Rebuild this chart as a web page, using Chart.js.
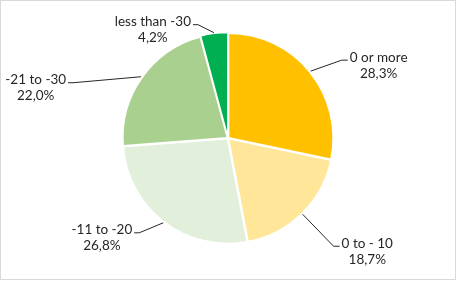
<!DOCTYPE html>
<html>
<head>
<meta charset="utf-8">
<script src="https://cdn.jsdelivr.net/npm/chart.js@4"></script>
<style>
  html, body { margin: 0; padding: 0; background: #fff; }
  #wrap { width: 456px; height: 281px; position: relative; }
</style>
</head>
<body>
<div id="wrap"><canvas id="pie"></canvas></div>
<script>
    // slice names and shares (percent), clockwise from 12 o'clock
    var categories = ['0 or more', '0 to - 10', '-11 to -20', '-21 to -30', 'less than -30'];
    var shares = [28.3, 18.7, 26.8, 22.0, 4.2];
    var sliceColors = ['#FFC000', '#FFE699', '#E2EFDA', '#A9D08E', '#00B050'];

    // where each label's elbow sits, relative to the slice edge point
    var labelShift = [[31, -11], [31, 32], [-24, 10], [-68, 6], [-16, -8]];

    var FONT = '13.5px Lato, "Open Sans", sans-serif';
    var TEXT_COLOR = '#262626';
    var SLICE_OFFSET = 3;

    function pctText(v) {
        return v.toFixed(1).replace('.', ',') + '%';
    }

    var frame = {
        id: 'frame',
        afterDraw: function (chart) {
            var ctx = chart.ctx;
            ctx.save();
            ctx.strokeStyle = '#D9D9D9';
            ctx.lineWidth = 1;
            ctx.strokeRect(0.5, 0.5, 455, 279);
            ctx.restore();
        }
    };

    // data labels with leader lines, excel style
    var pieLabels = {
        id: 'pieLabels',
        afterDatasetsDraw: function (chart) {
            var ctx = chart.ctx,
                meta = chart.getDatasetMeta(0);
            ctx.save();
            ctx.font = FONT;
            ctx.textBaseline = 'middle';
            ctx.textAlign = 'center';
            meta.data.forEach(function (arc, i) {
                var p = arc.getProps(['x', 'y', 'startAngle', 'endAngle', 'outerRadius'], true),
                    mid = (p.startAngle + p.endAngle) / 2,
                    r = p.outerRadius + SLICE_OFFSET - 1,
                    ex = p.x + Math.cos(mid) * r,
                    ey = p.y + Math.sin(mid) * r,
                    bx = ex + labelShift[i][0],
                    by = ey + labelShift[i][1],
                    right = labelShift[i][0] > 0,
                    tx = bx + (right ? 6 : -5),
                    line1 = categories[i],
                    line2 = pctText(shares[i]),
                    w = Math.max(ctx.measureText(line1).width, ctx.measureText(line2).width),
                    cx = right ? tx + 2 + w / 2 : tx - 2 - w / 2;

                ctx.strokeStyle = '#262626';
                ctx.lineWidth = 1;
                ctx.beginPath();
                ctx.moveTo(ex, ey);
                ctx.lineTo(bx, by);
                ctx.lineTo(tx, by);
                ctx.stroke();

                ctx.fillStyle = TEXT_COLOR;
                ctx.fillText(line1, cx, by - 3);
                ctx.fillText(line2, cx, by + 13);
            });
            ctx.restore();
        }
    };

    new Chart(document.getElementById('pie'), {
        type: 'pie',
        data: {
            labels: categories,
            datasets: [{
                data: shares,
                backgroundColor: sliceColors,
                borderColor: '#FFFFFF',
                borderWidth: 1.5,
                offset: SLICE_OFFSET
            }]
        },
        options: {
            responsive: true,
            maintainAspectRatio: false,
            animation: false,
            layout: { padding: { top: 31.5, bottom: 36, left: 100, right: 100 } },
            plugins: {
                legend: { display: false },
                tooltip: { enabled: false }
            }
        },
        plugins: [pieLabels, frame]
    });
</script>
</body>
</html>
